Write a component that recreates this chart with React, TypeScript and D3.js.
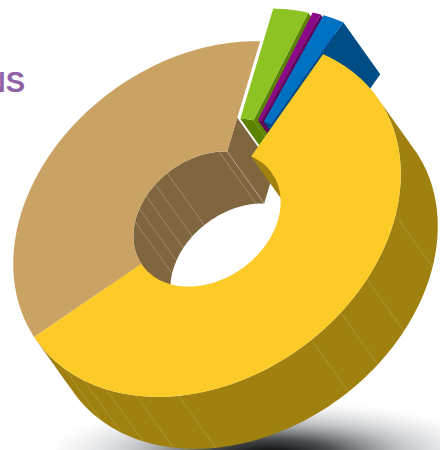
import React from "react";
import * as d3 from "d3";

// Share of each ring segment, clockwise from the gold segment.
const segments = ["gold", "tan", "green", "purple", "blue"];
const shares = [57.3, 36.9, 3.1, 0.75, 1.95];
const explodeBy = [0, 0, 0.185, 0.19, 0.19];
const topColors = ["#FDCB28", "#C9A264", "#8DC322", "#8B0A8A", "#0070C0"];
const wallColors = ["#A08110", "#7F663F", "#5B8300", "#66005F", "#004C85"];
// How far along the cut the end face of each segment is painted (radius 0..1).
const endFaceReach = [1, 0.57, 1, 1, 1];

// Facet seams on the curved walls, in degrees around the ring.
const outerSeams = [42, 63, 75, 86, 127, 140, 150, 158, 166];
const innerSeams = [221, 232, 243, 254, 266, 308, 314.5];

const ringStart = 65.4; // degrees clockwise from 12 o'clock
const center = { x: 207, y: 219 };
const major = { x: 0.81, y: -0.58 };
const minor = { x: 0.58, y: 0.81 };
const radiusU = d3.scaleLinear().domain([0, 1]).range([0, 210]);
const radiusV = d3.scaleLinear().domain([0, 1]).range([0, 160]);
const holeRatio = 0.38;
const depth = { x: 37, y: 52 };

type Pt = [number, number];
const rad = (d: number) => (d * Math.PI) / 180;

// Maps a ring position (degrees, radius 0..1, depth 0..1, slice offset) to the page.
function place(deg: number, r: number, z: number, off: [number, number] = [0, 0]): Pt {
  const u = radiusU(r * Math.cos(rad(deg)) + off[0]);
  const v = radiusV(r * Math.sin(rad(deg)) + off[1]);
  return [
    center.x + u * major.x + v * minor.x + depth.x * z,
    center.y + u * major.y + v * minor.y + depth.y * z,
  ];
}

const linePath = d3.line<Pt>();
const sweep = (a: number, b: number) => {
  const n = Math.max(2, Math.ceil(Math.abs(b - a) / 1.5));
  return d3.range(n + 1).map((i) => a + ((b - a) * i) / n);
};
const overlap = (a0: number, a1: number, b0: number, b1: number): [number, number] | null => {
  const lo = Math.max(a0, b0);
  const hi = Math.min(a1, b1);
  return hi > lo ? [lo, hi] : null;
};

const pieAngles = d3
  .pie<number>()
  .sort(null)
  .startAngle(rad(ringStart))
  .endAngle(rad(ringStart + 360))(shares);

const slices = pieAngles.map((p, i) => {
  const a0 = (p.startAngle * 180) / Math.PI - 90;
  const a1 = (p.endAngle * 180) / Math.PI - 90;
  const mid = rad((a0 + a1) / 2);
  const off: [number, number] = [explodeBy[i] * Math.cos(mid), explodeBy[i] * Math.sin(mid)];
  return { i, name: segments[i], a0, a1, off };
});

function band(a0: number, a1: number, r: number, off: [number, number]) {
  const top = sweep(a0, a1).map((a) => place(a, r, 0, off));
  const bottom = sweep(a1, a0).map((a) => place(a, r, 1, off));
  return linePath([...top, ...bottom]) + "Z";
}
function faceEnd(a: number, reach: number, off: [number, number]) {
  return (
    linePath([
      place(a, holeRatio, 0, off),
      place(a, reach, 0, off),
      place(a, reach, 1, off),
      place(a, holeRatio, 1, off),
    ]) + "Z"
  );
}
function topFace(a0: number, a1: number, off: [number, number]) {
  const outer = sweep(a0, a1).map((a) => place(a, 1, 0, off));
  const inner = sweep(a1, a0).map((a) => place(a, holeRatio, 0, off));
  return linePath([...outer, ...inner]) + "Z";
}

// Paints the walls of one slice: the end faces, then the visible curved faces.
function Walls({ s }: { s: (typeof slices)[number] }) {
  const edges = [s.a0, s.a1].filter((a, k) => Math.sin(rad(a + (k === 0 ? -90 : 90))) > 0);
  const outerA = [overlap(s.a0, s.a1, 0, 184), overlap(s.a0, s.a1, 360, 544)].filter(Boolean) as [number, number][];
  const innerA = [overlap(s.a0, s.a1, -180, 0), overlap(s.a0, s.a1, 180, 360)].filter(Boolean) as [number, number][];
  return (
    <g fill={wallColors[s.i]}>
      {edges.map((a, k) => (
        <path key={k} d={faceEnd(a, endFaceReach[s.i], s.off)} />
      ))}
      {innerA.map(([a, b], k) => (
        <path key={`i${k}`} d={band(a, b, holeRatio, s.off)} />
      ))}
      {outerA.map(([a, b], k) => (
        <path key={`o${k}`} d={band(a, b, 1, s.off)} />
      ))}
    </g>
  );
}

function Seams({ list, r, tone }: { list: number[]; r: number; tone: string }) {
  return (
    <g stroke={tone} strokeWidth={0.7} fill="none">
      {list.map((a) => {
        const [x1, y1] = place(a, r, 0);
        const [x2, y2] = place(a, r, 1);
        return <line key={a} x1={x1} y1={y1} x2={x2} y2={y2} />;
      })}
    </g>
  );
}

export default function App() {
  const [gold, tan, green, purple, blue] = slices;
  return (
    <svg
      width={440}
      height={450}
      viewBox="0 0 440 450"
      style={{ position: "absolute", left: 0, top: 0, background: "#fff" }}
    >
      <defs>
        <radialGradient id="floorShadow">
          <stop offset="0" stopColor="#000" stopOpacity={1} />
          <stop offset="0.28" stopColor="#2a2d30" stopOpacity={0.85} />
          <stop offset="0.6" stopColor="#70757a" stopOpacity={0.42} />
          <stop offset="1" stopColor="#c0c5ca" stopOpacity={0} />
        </radialGradient>
      </defs>
      <text
        x={25}
        y={92}
        textAnchor="end"
        fontFamily="Liberation Sans"
        fontWeight={700}
        fontSize={29}
        fill="#9063A8"
      >
        NS
      </text>
      <ellipse cx={270} cy={454} rx={225} ry={54} fill="url(#floorShadow)" />

      <Walls s={tan} />
      <Seams list={innerSeams} r={holeRatio} tone="rgba(255,255,255,0.34)" />
      <Walls s={green} />
      <path d={topFace(green.a0, green.a1, green.off)} fill={topColors[2]} />
      <Walls s={purple} />
      <path d={topFace(purple.a0, purple.a1, purple.off)} fill={topColors[3]} />
      <Walls s={blue} />
      <path d={topFace(blue.a0, blue.a1, blue.off)} fill={topColors[4]} />
      <Walls s={gold} />
      <Seams list={outerSeams} r={1} tone="rgba(255,255,255,0.2)" />
      <path d={topFace(tan.a0, tan.a1, tan.off)} fill={topColors[1]} />
      <path d={topFace(gold.a0, gold.a1, gold.off)} fill={topColors[0]} />
    </svg>
  );
}
